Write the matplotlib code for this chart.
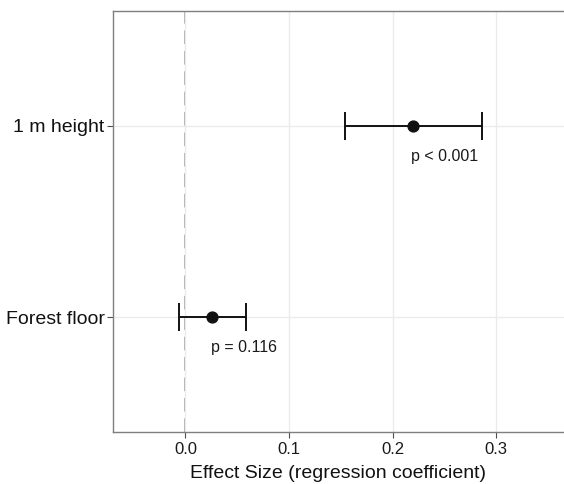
import matplotlib
matplotlib.use("Agg")
import matplotlib.pyplot as plt
import numpy as np

plt.rcParams['font.family'] = ['Liberation Sans', 'DejaVu Sans']

# data
categories = ["Forest floor", "1 m height"]
estimate = [0.026, 0.220]
ci_low = [-0.006, 0.154]
ci_high = [0.058, 0.286]
p_labels = ["p = 0.116", "p < 0.001"]
p_x = [0.057, 0.250]
p_y_offset = [-0.157, -0.162]

fig = plt.figure(figsize=(5.64, 4.84), dpi=100)
ax = fig.add_axes([113/564, 1-432/484, 1-113/564, (432-11)/484])

ypos = np.arange(1, len(categories)+1)

ax.grid(True, color='#ebebeb', linewidth=1.0, zorder=0)
ax.axvline(0, color='#ababab', linestyle=(0, (7, 3.5)), linewidth=1.4, zorder=1)

err = [np.array(estimate)-np.array(ci_low), np.array(ci_high)-np.array(estimate)]
ax.errorbar(estimate, ypos, xerr=err, fmt='o', color='#111111', ecolor='#111111',
            markersize=7.8, elinewidth=1.4, capsize=10, capthick=1.4, zorder=3)

for i in range(len(categories)):
    ax.text(p_x[i], ypos[i]+p_y_offset[i], p_labels[i], ha='center', va='center',
            fontsize=11.5, color='#1a1a1a')

ax.set_xlim(-0.070, 0.3656)
ax.set_ylim(0.4, 2.6)
ax.set_xticks([0.0, 0.1, 0.2, 0.3])
ax.set_xticklabels(["0.0", "0.1", "0.2", "0.3"])
ax.set_yticks(ypos)
ax.set_yticklabels(categories, fontsize=14)
ax.tick_params(axis='x', labelsize=12, colors='#4d4d4d', length=4, width=0.8, pad=3, labelcolor='#1a1a1a')
ax.tick_params(axis='y', colors='#4d4d4d', length=4, width=0.8, pad=2, labelcolor='#111111')
ax.set_xlabel("Effect Size (regression coefficient)", fontsize=14, color='#111111', labelpad=6)

for s in ['top', 'bottom', 'left']:
    ax.spines[s].set_color('#7f7f7f')
    ax.spines[s].set_linewidth(1.0)
ax.spines['right'].set_visible(False)

fig.savefig("out.png", dpi=100)
